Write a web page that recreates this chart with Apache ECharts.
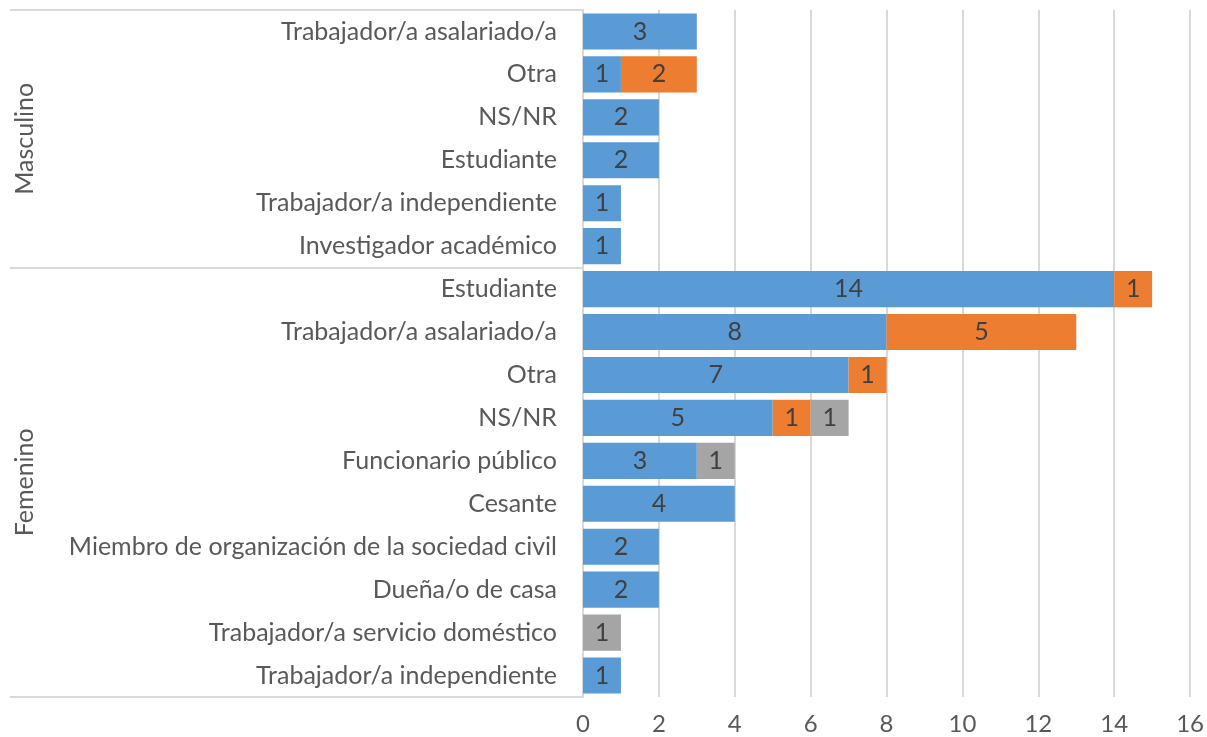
<!DOCTYPE html>
<html>
<head>
<meta charset="utf-8">
<script src="https://cdn.jsdelivr.net/npm/echarts@6/dist/echarts.min.js"></script>
<style>
  html, body { margin: 0; padding: 0; background: #fff; }
  #chart { width: 1207px; height: 737px; }
</style>
</head>
<body>
<div id="chart"></div>
<script>
// categorias (de arriba hacia abajo)
var categorias = [
  'Trabajador/a asalariado/a', 'Otra', 'NS/NR', 'Estudiante',
  'Trabajador/a independiente', 'Investigador académico',
  'Estudiante', 'Trabajador/a asalariado/a', 'Otra', 'NS/NR',
  'Funcionario público', 'Cesante', 'Miembro de organización de la sociedad civil',
  'Dueña/o de casa', 'Trabajador/a servicio doméstico', 'Trabajador/a independiente'
];
// grupos: nombre, fila inicial, fila final
var grupos = ['Masculino', 'Femenino'];
var gruposInicio = [0, 6];
var gruposFin = [6, 16];

var serie1 = [3, 1, 2, 2, 1, 1, 14, 8, 7, 5, 3, 4, 2, 2, 0, 1];
var serie2 = [0, 2, 0, 0, 0, 0, 1, 5, 1, 1, 0, 0, 0, 0, 0, 0];
var serie3 = [0, 0, 0, 0, 0, 0, 0, 0, 0, 1, 1, 0, 0, 0, 1, 0];

var colores = ['#5B9BD5', '#ED7D31', '#A5A5A5'];
var fuente = 'Lato';

var chart = echarts.init(document.getElementById('chart'));

function etiqueta() {
  return {
    show: true,
    position: 'inside',
    color: '#404040',
    fontSize: 25,
    fontFamily: fuente,
    formatter: function (p) { return p.value ? String(p.value) : ''; }
  };
}

function serie(nombre, datos, color) {
  return {
    name: nombre,
    type: 'bar',
    stack: 'total',
    barCategoryGap: '16%',
    data: datos,
    itemStyle: { color: color },
    label: etiqueta()
  };
}

// posiciones centrales y bordes de los grupos
var centros = gruposInicio.map(function (s, i) { return (s + gruposFin[i]) / 2; });
var bordes = [0].concat(gruposFin);

chart.setOption({
  animation: false,
  grid: { left: 583, right: 15, top: 10, bottom: 40 },
  xAxis: {
    type: 'value',
    min: 0,
    max: 16,
    interval: 2,
    axisLine: { show: false },
    axisTick: { show: false },
    axisLabel: { color: '#595959', fontSize: 24, fontFamily: fuente, margin: 15 },
    splitLine: { lineStyle: { color: '#D9D9D9', width: 2 } }
  },
  yAxis: [
    {
      type: 'category',
      data: categorias,
      inverse: true,
      axisLine: { lineStyle: { color: '#D9D9D9', width: 2 } },
      axisTick: { show: false },
      axisLabel: { color: '#595959', fontSize: 25, fontFamily: fuente, margin: 26 }
    },
    {
      type: 'value',
      min: 0,
      max: 16,
      inverse: true,
      position: 'left',
      splitLine: { show: false },
      axisLine: { show: true, lineStyle: { color: '#D9D9D9', width: 2 } },
      axisTick: {
        show: true,
        customValues: bordes,
        length: 573,
        lineStyle: { color: '#D9D9D9', width: 2 }
      },
      axisLabel: {
        customValues: centros,
        rotate: 90,
        margin: 546,
        color: '#595959',
        fontSize: 25,
        fontFamily: fuente,
        formatter: function (v) {
          var i = centros.indexOf(v);
          return i >= 0 ? grupos[i] : '';
        }
      }
    }
  ],
  series: [
    serie('Serie 1', serie1, colores[0]),
    serie('Serie 2', serie2, colores[1]),
    serie('Serie 3', serie3, colores[2])
  ]
});
</script>
</body>
</html>
